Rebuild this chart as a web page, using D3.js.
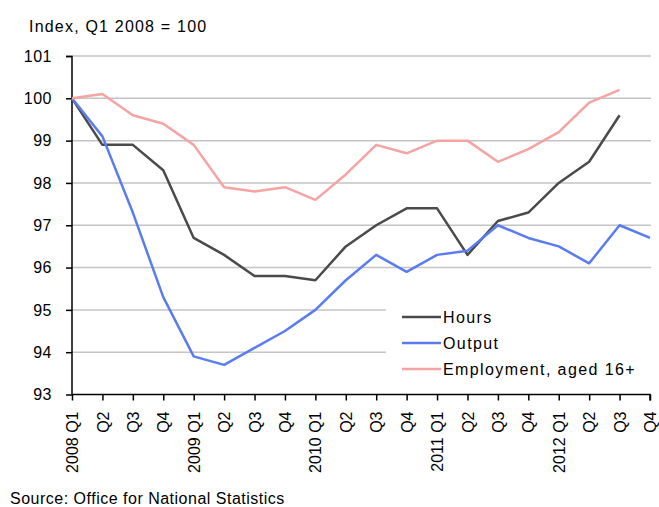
<!DOCTYPE html>
<html>
<head>
<meta charset="utf-8">
<script src="https://cdn.jsdelivr.net/npm/d3@7"></script>
<style>
  body { margin: 0; background: #fff; }
  text { font-family: "Liberation Sans", Arial, sans-serif; fill: #000; }
</style>
</head>
<body>
<div id="chart"></div>
<script>
const quarters = [
  "2008 Q1", "Q2", "Q3", "Q4",
  "2009 Q1", "Q2", "Q3", "Q4",
  "2010 Q1", "Q2", "Q3", "Q4",
  "2011 Q1", "Q2", "Q3", "Q4",
  "2012 Q1", "Q2", "Q3", "Q4"
];
const hours = [100, 98.9, 98.9, 98.3, 96.7, 96.3, 95.8, 95.8, 95.7, 96.5, 97.0, 97.4, 97.4, 96.3, 97.1, 97.3, 98.0, 98.5, 99.6];
const output = [100, 99.1, 97.3, 95.3, 93.9, 93.7, 94.1, 94.5, 95.0, 95.7, 96.3, 95.9, 96.3, 96.4, 97.0, 96.7, 96.5, 96.1, 97.0, 96.7];
const employment = [100, 100.1, 99.6, 99.4, 98.9, 97.9, 97.8, 97.9, 97.6, 98.2, 98.9, 98.7, 99.0, 99.0, 98.5, 98.8, 99.2, 99.9, 100.2];
const yTicks = [93, 94, 95, 96, 97, 98, 99, 100, 101];

const seriesList = [
  { name: "Hours", values: hours, color: "#4a4a4a" },
  { name: "Output", values: output, color: "#5a7cf0" },
  { name: "Employment, aged 16+", values: employment, color: "#f5a3a3" }
];

const width = 659, height = 507;
const svg = d3.select("#chart").append("svg")
  .attr("width", width).attr("height", height);

// quarter index keeps repeated "Q2" etc. unique
const x = d3.scalePoint().domain(d3.range(quarters.length)).range([72, 650]);
const y = d3.scaleLinear().domain([93, 101]).range([394.5, 56]);

// gridlines
svg.append("g").selectAll("line")
  .data(yTicks.filter(d => d > 93))
  .join("line")
  .attr("x1", 72).attr("x2", 651)
  .attr("y1", d => y(d)).attr("y2", d => y(d))
  .attr("stroke", "#c4c4c4").attr("stroke-width", 1.5);

// y axis
const yAxis = svg.append("g")
  .attr("transform", "translate(72,0)")
  .call(d3.axisLeft(y).tickValues(yTicks).tickSize(6).tickPadding(14).tickFormat(d3.format("d")));
yAxis.selectAll("text").attr("font-size", 16).style("font-family", "Liberation Sans, Arial, sans-serif")
  .style("letter-spacing", "0.5px");
yAxis.selectAll("line, path").attr("stroke", "#000").attr("stroke-width", 1.5);
yAxis.select(".domain").attr("d", "M-6,56.5H0V394.5");

// x axis
const xAxis = svg.append("g")
  .attr("transform", "translate(0,394.5)")
  .call(d3.axisBottom(x).tickSize(6).tickFormat(i => quarters[i]));
xAxis.selectAll("line, path").attr("stroke", "#000").attr("stroke-width", 1.5);
xAxis.select(".domain").attr("d", "M72,0H650V6");
xAxis.selectAll("text")
  .attr("font-size", 16)
  .style("font-family", "Liberation Sans, Arial, sans-serif")
  .attr("text-anchor", "end")
  .attr("x", 0).attr("y", 0).attr("dy", "0.35em")
  .attr("transform", "translate(0,17) rotate(-90)");

// lines
const line = d3.line().x((d, i) => x(i)).y(d => y(d));
svg.append("g").selectAll("path")
  .data(seriesList)
  .join("path")
  .attr("d", d => line(d.values))
  .attr("fill", "none")
  .attr("stroke", d => d.color)
  .attr("stroke-width", 2.5)
  .attr("stroke-linejoin", "round");

// legend
const legend = svg.append("g").attr("transform", "translate(386,300)");
legend.append("rect").attr("width", 265).attr("height", 82).attr("fill", "#fff");
seriesList.forEach((s, i) => {
  const gy = 17 + i * 26;
  legend.append("line")
    .attr("x1", 16).attr("x2", 55).attr("y1", gy).attr("y2", gy)
    .attr("stroke", s.color).attr("stroke-width", 2.5);
  legend.append("text")
    .attr("x", 57).attr("y", gy).attr("dy", "0.35em")
    .attr("font-size", 16)
    .style("letter-spacing", "1.4px")
    .text(s.name);
});

// titles
svg.append("text").attr("x", 29).attr("y", 32).attr("font-size", 16)
  .style("letter-spacing", "1.2px").text("Index, Q1 2008 = 100");
svg.append("text").attr("x", 10).attr("y", 504).attr("font-size", 16)
  .style("letter-spacing", "0.5px").text("Source: Office for National Statistics");
</script>
</body>
</html>
